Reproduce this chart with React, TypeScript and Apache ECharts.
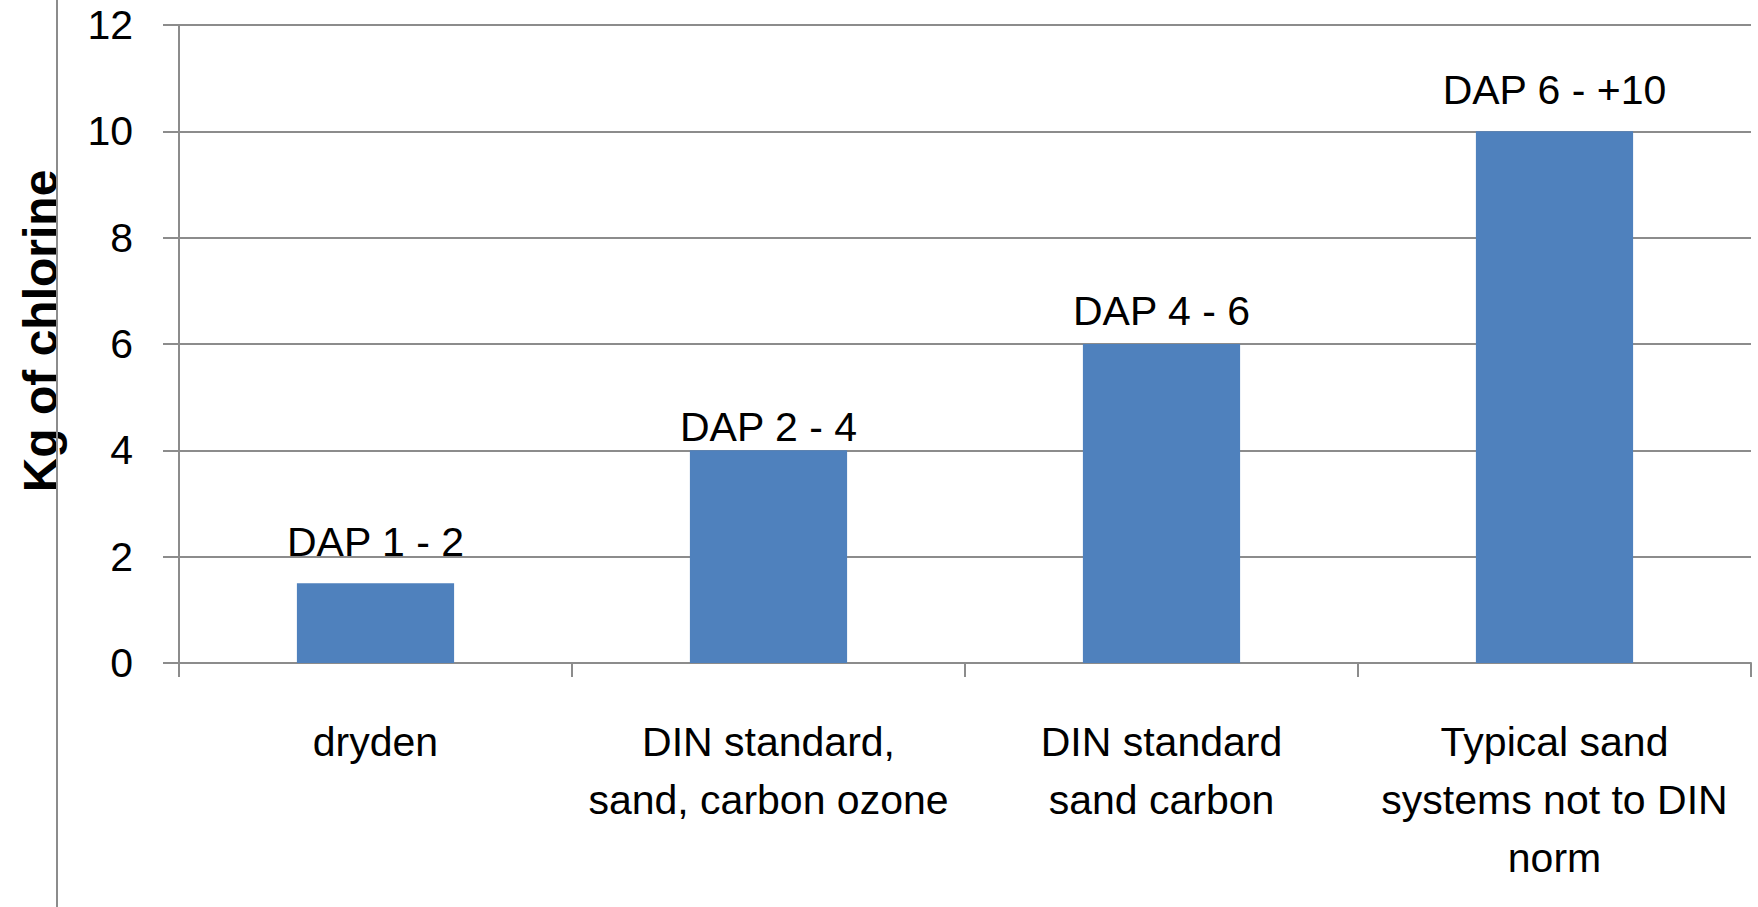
import React, { useEffect, useRef } from "react";
import * as echarts from "echarts";

const categories = [
  "dryden",
  "DIN standard,\nsand, carbon ozone",
  "DIN standard\nsand carbon",
  "Typical sand\nsystems not to DIN\nnorm",
];
const values = [1.5, 4, 6, 10];
const barLabels = ["DAP 1 - 2", "DAP 2 - 4", "DAP 4 - 6", "DAP 6 - +10"];
const yTicks = { min: 0, max: 12, interval: 2 };
const yTitle = "Kg of chlorine";

// label placement styling (gap above each bar, px)
const labelGaps = [21, 3, 13, 21];

const FONT = "'Liberation Sans', Arial, sans-serif";
const GRAY = "#8c8c8c";

export default function App() {
  const ref = useRef<HTMLDivElement>(null);
  useEffect(() => {
    if (!ref.current) return;
    const chart = echarts.init(ref.current, null, { renderer: "svg" });
    chart.setOption({
      animation: false,
      backgroundColor: "#ffffff",
      grid: { left: 179, right: 7, top: 25, bottom: 244, containLabel: false },
      xAxis: {
        type: "category",
        data: categories,
        axisLine: { show: true, lineStyle: { color: GRAY, width: 2 } },
        axisTick: { show: true, length: 14, alignWithLabel: false, lineStyle: { color: GRAY, width: 2 } },
        axisLabel: {
          interval: 0,
          margin: 50,
          color: "#000",
          fontFamily: FONT,
          fontSize: 41,
          lineHeight: 58,
        },
      },
      yAxis: {
        type: "value",
        min: yTicks.min,
        max: yTicks.max,
        interval: yTicks.interval,
        axisLine: { show: true, lineStyle: { color: GRAY, width: 2 } },
        axisTick: { show: true, length: 16, lineStyle: { color: GRAY, width: 2 } },
        splitLine: { show: true, lineStyle: { color: GRAY, width: 2 } },
        axisLabel: {
          margin: 46,
          color: "#000",
          fontFamily: FONT,
          fontSize: 41,
        },
      },
      series: [
        {
          type: "bar",
          data: values.map((v, i) => ({
            value: v,
            label: { distance: labelGaps[i] },
          })),
          barWidth: "40%",
          itemStyle: { color: "#4F81BD" },
          label: {
            show: true,
            position: "top",
            color: "#000",
            fontFamily: FONT,
            fontSize: 41,
            formatter: (p: any) => barLabels[p.dataIndex],
          },
        },
      ],
      graphic: [
        {
          type: "text",
          x: 40,
          y: 331,
          rotation: Math.PI / 2,
          style: {
            text: yTitle,
            fontFamily: FONT,
            fontSize: 48,
            fontWeight: "bold",
            fill: "#000",
            textAlign: "center",
            textVerticalAlign: "middle",
          },
          z: 1,
        },
        {
          type: "line",
          shape: { x1: 57, y1: 0, x2: 57, y2: 907 },
          style: { stroke: GRAY, lineWidth: 2 },
          z: 10,
        },
      ],
    });
    return () => chart.dispose();
  }, []);
  return (
    <div
      ref={ref}
      style={{ position: "fixed", left: 0, top: 0, width: 1758, height: 907 }}
    />
  );
}
